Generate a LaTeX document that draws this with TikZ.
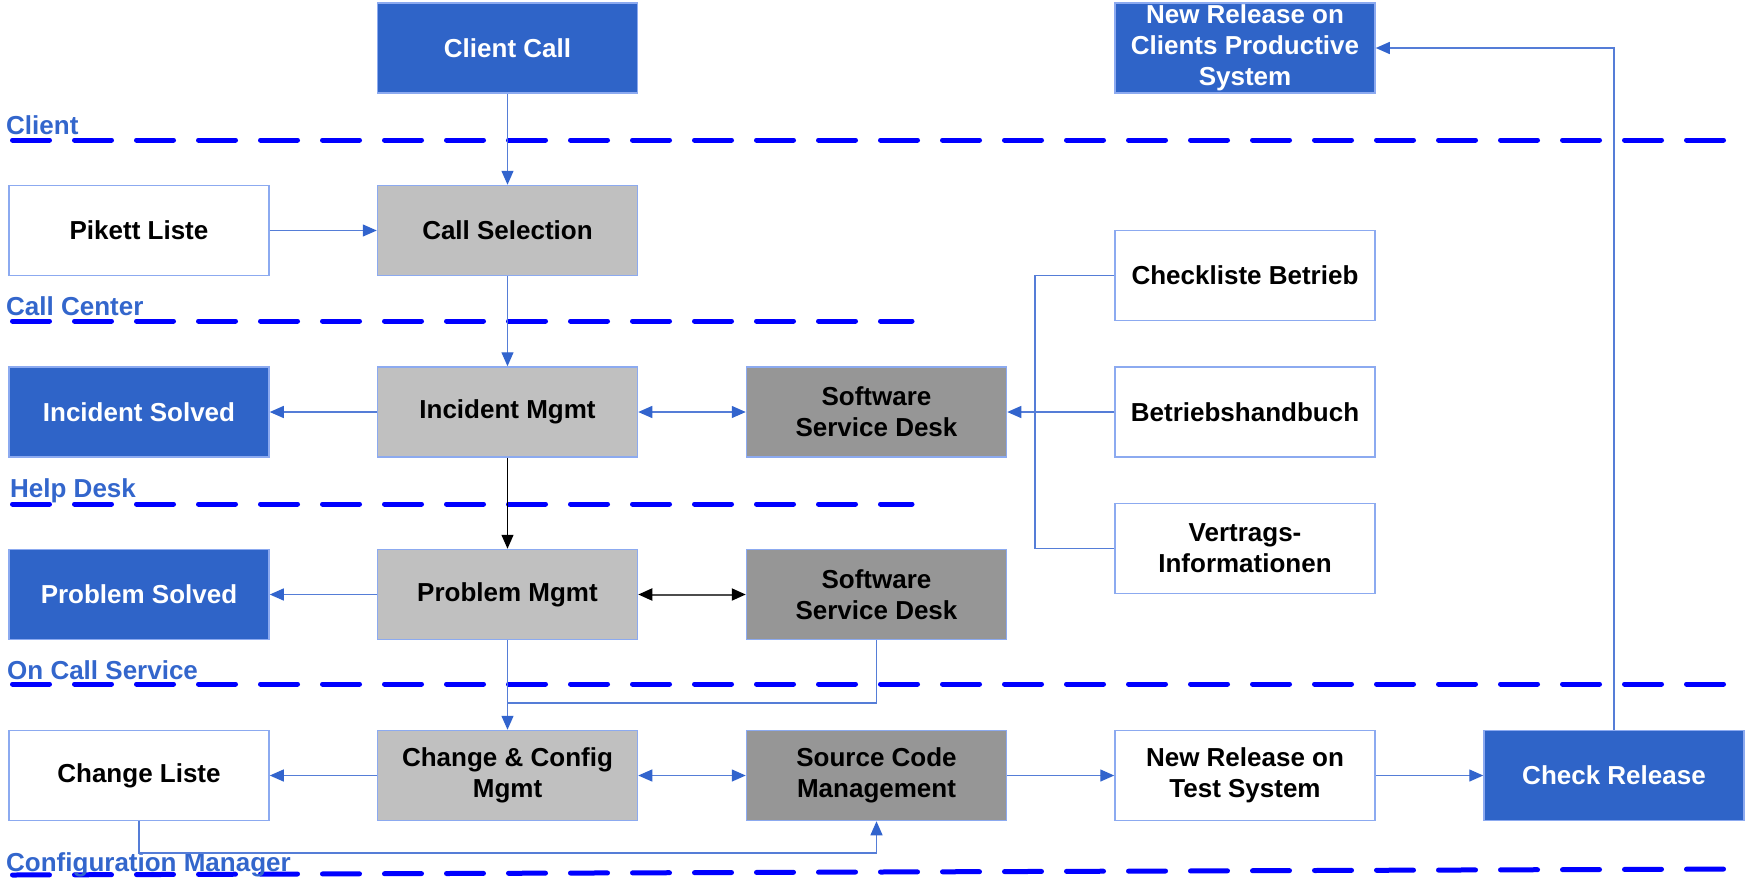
\documentclass[tikz,border=0pt]{standalone}
\usepackage{fontspec}
\setmainfont{Liberation Sans}
\usetikzlibrary{arrows.meta}
\definecolor{boxblue}{RGB}{47,100,200}
\definecolor{lgray}{RGB}{192,192,192}
\definecolor{dgray}{RGB}{150,150,150}
\definecolor{bord}{RGB}{140,170,240}
\definecolor{conncol}{RGB}{85,125,215}
\definecolor{headcol}{RGB}{50,100,205}
\definecolor{lanecol}{RGB}{0,0,255}
\definecolor{lblcol}{RGB}{51,102,204}
\begin{document}
\begin{tikzpicture}[x=1pt,y=-1pt,
  box/.style={draw=bord, line width=1.5pt, minimum width=260pt, minimum height=90pt,
    inner sep=0pt, align=center, font=\fontsize{26}{31}\selectfont\bfseries},
  bluebox/.style={box, fill=boxblue, text=white},
  whitebox/.style={box, fill=white, text=black},
  lightbox/.style={box, fill=lgray, text=black},
  darkbox/.style={box, fill=dgray, text=black},
  tip/.style={-{Triangle[length=14pt,width=12pt,color=headcol]}},
  link/.style={draw=conncol, line width=1.3pt},
  linkarrow/.style={link, tip},
  linkboth/.style={link, {Triangle[length=14pt,width=12pt,color=headcol]}-{Triangle[length=14pt,width=12pt,color=headcol]}},
  blackarrow/.style={draw=black, line width=1.3pt, -{Triangle[length=14pt,width=12pt]}},
  blackboth/.style={draw=black!70, line width=2pt, {Triangle[length=14pt,width=12pt,color=black]}-{Triangle[length=14pt,width=12pt,color=black]}},
  lane/.style={draw=lanecol, line width=5pt, dash pattern=on 37pt off 25pt, line cap=round},
  lanelabel/.style={anchor=base west, text=lblcol, inner sep=0pt,
    font=\fontsize{26}{31}\selectfont\bfseries}]
\useasboundingbox (0,0) rectangle (1755,889);

% swimlane separators
\draw[lane] (12.5,140) -- (1746,140);
\draw[lane] (12.5,321) -- (912,321);
\draw[lane] (12.5,504) -- (912,504);
\draw[lane] (12.5,684) -- (1746,684);
\draw[lane] (12.5,875) -- (1746,869);

% lane labels
\node[lanelabel] (lclient) at (6,134) {Client};
\node[lanelabel] (lcall) at (6,315) {Call Center};
\node[lanelabel] (lhelp) at (10,497) {Help Desk};
\node[lanelabel] (loncall) at (7,679) {On Call Service};
\node[lanelabel] (lconf) at (6,871) {Configuration Manager};

% boxes
\node[bluebox] (cc) at (507.5,48) {Client Call};
\node[bluebox] (nrc) at (1245,48) {New Release on\\Clients Productive\\System};
\node[whitebox] (pk) at (139,230.5) {Pikett Liste};
\node[lightbox] (cs) at (507.5,230.5) {Call Selection};
\node[whitebox] (chk) at (1245,275.5) {Checkliste Betrieb};
\node[bluebox] (isv) at (139,412) {Incident Solved};
\node[lightbox] (im) at (507.5,412) {Incident Mgmt};
\node[darkbox] (ssd1) at (876.5,412) {Software\\Service Desk};
\node[whitebox] (bh) at (1245,412) {Betriebshandbuch};
\node[whitebox] (vi) at (1245,548.5) {Vertrags-\\Informationen};
\node[bluebox] (psv) at (139,594.5) {Problem Solved};
\node[lightbox] (pm) at (507.5,594.5) {Problem Mgmt};
\node[darkbox] (ssd2) at (876.5,594.5) {Software\\Service Desk};
\node[whitebox] (cl) at (139,775.5) {Change Liste};
\node[lightbox] (ccm) at (507.5,775.5) {Change \& Config\\Mgmt};
\node[darkbox] (scm) at (876.5,775.5) {Source Code\\Management};
\node[whitebox] (nrt) at (1245,775.5) {New Release on\\Test System};
\node[bluebox] (cr) at (1614,775.5) {Check Release};

% helper coordinates
\coordinate (bx) at (1035,412);
\coordinate (j1) at (507.5,703);
\coordinate (j2) at (139,853);

% connectors
\draw[linkarrow] (cc) -- (cs);
\draw[linkarrow] (pk) -- (cs);
\draw[linkarrow] (cs) -- (im);
\draw[linkarrow] (im) -- (isv);
\draw[linkboth] (im) -- (ssd1);
\draw[link] (chk.west) -| (bx) |- (vi.west);
\draw[linkarrow] (bh) -- (ssd1);
\draw[blackarrow] (im) -- (pm);
\draw[linkarrow] (pm) -- (psv);
\draw[blackboth] (pm) -- (ssd2);
\draw[linkarrow] (pm) -- (ccm);
\draw[link] (ssd2.south) |- (j1);
\draw[linkarrow] (ccm) -- (cl);
\draw[linkboth] (ccm) -- (scm);
\draw[linkarrow] (cl.south) -- (j2) -| (scm.south);
\draw[linkarrow] (scm) -- (nrt);
\draw[linkarrow] (nrt) -- (cr);
\draw[linkarrow] (cr.north) |- (nrc.east);
\end{tikzpicture}
\end{document}
